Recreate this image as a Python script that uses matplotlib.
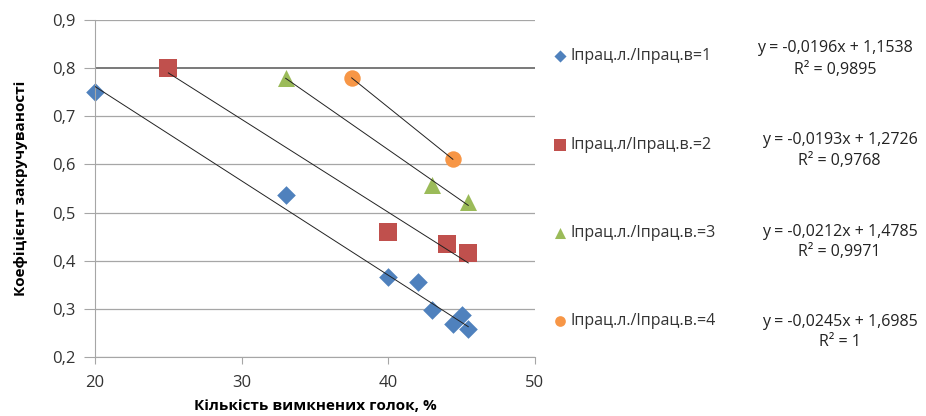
import matplotlib
matplotlib.use("Agg")
import matplotlib.pyplot as plt
import numpy as np

plt.rcParams['font.family'] = ['Open Sans', 'DejaVu Sans']

# series
x1 = [20, 33, 40, 42, 43, 44.4, 45, 45.45]
y1 = [0.75, 0.537, 0.366, 0.355, 0.298, 0.268, 0.288, 0.259]
x2 = [25, 40, 44, 45.45]
y2 = [0.80, 0.459, 0.434, 0.417]
x3 = [33, 43, 45.45]
y3 = [0.78, 0.558, 0.521]
x4 = [37.5, 44.4]
y4 = [0.78, 0.612]

labels = ["Іпрац.л./Іпрац.в=1", "Іпрац.л/Іпрац.в.=2",
          "Іпрац.л./Іпрац.в.=3", "Іпрац.л./Іпрац.в.=4"]

# trendline equations shown next to the legend
slopes = [-0.0196, -0.0193, -0.0212, -0.0245]
intercepts = [1.1538, 1.2726, 1.4785, 1.6985]
eq_text = ["y = -0,0196x + 1,1538", "y = -0,0193x + 1,2726",
           "y = -0,0212x + 1,4785", "y = -0,0245x + 1,6985"]
r2_text = ["R² = 0,9895", "R² = 0,9768", "R² = 0,9971", "R² = 1"]

xticks = [20, 30, 40, 50]
yticks = [0.2, 0.3, 0.4, 0.5, 0.6, 0.7, 0.8, 0.9]

colors = ["#4F81BD", "#C0504D", "#9BBB59", "#F79646"]
markers = ["D", "s", "^", "o"]
sizes = [90, 150, 150, 140]

fig = plt.figure(figsize=(9.26, 4.16), dpi=100)
ax = fig.add_axes([95 / 926, 1 - 357 / 416, 440 / 926, 337 / 416])

xs = [x1, x2, x3, x4]
ys = [y1, y2, y3, y4]
handles = []
for i in range(4):
    xx = np.array([min(xs[i]), max(xs[i])])
    ax.plot(xx, slopes[i] * xx + intercepts[i], color="#222222", lw=0.7, zorder=3)
    h = ax.scatter(xs[i], ys[i], marker=markers[i], s=sizes[i], color=colors[i],
                   zorder=2, linewidths=0, label=labels[i], clip_on=False)
    handles.append(h)

ax.set_xlim(20, 50)
ax.set_ylim(0.2, 0.9)
ax.set_xticks(xticks)
ax.set_yticks(yticks)
ax.set_xticklabels([str(v) for v in xticks])
ax.set_yticklabels([f"{v:.1f}".replace(".", ",") for v in yticks])
ax.yaxis.grid(True, color="#A6A6A6", lw=0.9)
ax.set_axisbelow(True)
for gl, v in zip(ax.get_ygridlines(), yticks):
    if abs(v - 0.8) < 1e-6:
        gl.set_color("#6E6E6E")
        gl.set_linewidth(1.3)
for s in ["top", "right"]:
    ax.spines[s].set_visible(False)
for s in ["left", "bottom"]:
    ax.spines[s].set_color("#A6A6A6")
ax.tick_params(axis="y", length=8, color="#A6A6A6", labelsize=12,
               labelcolor="#333333", pad=6)
ax.tick_params(axis="x", length=5, color="#A6A6A6", labelsize=12,
               labelcolor="#333333", pad=8)

ax.set_xlabel("Кількість вимкнених голок, %", fontsize=11, fontweight="bold",
              labelpad=6)
ax.set_ylabel("Коефіцієнт закручуваності", fontsize=11, fontweight="bold",
              labelpad=17)

leg = fig.legend(handles=handles, labels=labels, loc="upper left",
                 bbox_to_anchor=(536 / 926, 1 - 34 / 416), frameon=False,
                 fontsize=11.5, labelspacing=4.53, handletextpad=0.05,
                 markerscale=0.65, handlelength=1.2)
for t in leg.get_texts():
    t.set_color("#333333")

eq_x = [835, 840, 840, 840]
eq_y = [48, 140, 232, 322]
r2_x = [835, 839, 839, 840]
r2_y = [70, 161, 252, 342]
for i in range(4):
    fig.text(eq_x[i] / 926, 1 - eq_y[i] / 416, eq_text[i], ha="center",
             va="center", fontsize=11.5, color="#222222")
    fig.text(r2_x[i] / 926, 1 - r2_y[i] / 416, r2_text[i], ha="center",
             va="center", fontsize=11.5, color="#222222")

fig.savefig("out.png", dpi=100)
